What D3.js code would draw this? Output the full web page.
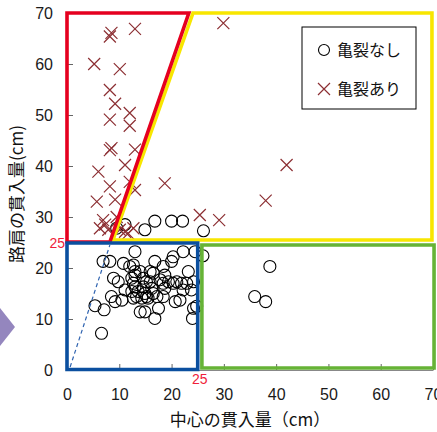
<!DOCTYPE html>
<html>
<head>
<meta charset="utf-8">
<script src="https://cdn.jsdelivr.net/npm/d3@7"></script>
<style>
  body { margin: 0; background: #fff; }
  svg { display: block; }
</style>
</head>
<body>
<div id="container"></div>
<script>
// values (cm)
const noCrack = [
  [6.6,7.2],[5.35,12.6],[7.1,11.8],[6.9,21.3],[8.2,21.3],
  [8.5,14.4],[8.9,18.0],[9.8,17.3],[9.2,13.4],[10.5,13.7],
  [10.8,20.9],[12.0,20.3],[12.7,20.6],[13.0,23.2],[11.1,15.7],
  [12.4,15.4],[12.7,17.0],[13.0,18.6],[13.3,14.4],[14.0,11.4],
  [14.9,11.4],[16.8,10.1],[15.2,17.3],[15.2,14.4],[16.2,16.0],
  [16.5,19.0],[16.8,21.3],[17.2,14.4],[17.5,12.1],[18.4,14.4],
  [18.4,20.3],[17.8,17.7],[19.4,17.3],[20.3,17.0],[20.3,22.2],
  [20.7,13.4],[21.6,13.7],[22.2,23.2],[21.9,17.0],[22.9,17.0],
  [23.2,19.3],[23.8,15.7],[24.2,12.1],[24.0,10.1],[24.5,23.2],
  [24.8,12.5],[24.2,17.3],[20.0,21.3],[13.0,19.3],[14.0,19.3],
  [15.9,19.3],[18.7,18.6],[12.4,18.0],[14.6,18.0],[15.9,17.3],
  [18.4,17.0],[21.0,17.3],[13.0,16.3],[14.6,16.3],[13.6,15.4],
  [14.9,15.0],[16.5,15.0],[18.7,16.0],[22.2,15.7],[12.7,14.1],
  [14.3,14.1],[15.5,14.1],[26.0,22.4],
  [9.5,27.8],[11.1,28.5],[14.9,27.5],[16.8,29.2],[20.0,29.2],
  [22.1,29.2],[26.1,27.3],
  [38.8,20.3],[35.9,14.4],[38.0,13.4]
];
const crack = [
  [5.2,60.0],[8.2,65.4],[8.5,66.1],[13.0,66.9],[10.1,59.0],
  [8.2,54.9],[9.2,52.2],[8.2,49.1],[12.0,50.4],[12.0,47.9],
  [8.5,43.5],[8.2,43.1],[13.0,43.2],[11.1,40.2],[6.0,38.9],
  [8.2,36.0],[13.0,35.3],[12.0,36.9],[18.7,36.6],[5.7,33.0],
  [9.2,33.4],[6.9,29.4],[7.3,28.5],[6.3,27.8],[7.9,27.5],
  [9.5,30.0],[10.1,27.5],[11.1,27.1],[11.7,26.8],[12.7,27.8],
  [25.4,30.4],[29.1,29.4],[29.9,68.0],[42.0,40.2],[38.0,33.2]
];
const xTicks = [0,10,20,30,40,50,60,70];
const yTicks = [0,10,20,30,40,50,60,70];
const legendLabels = ["亀裂なし", "亀裂あり"];
const xTitle = "中心の貫入量（cm）";
const yTitle = "路肩の貫入量(cm)";
const markValue = 25;

// zone outlines in cm
const redZone = [[0,25.1],[0,70],[23.3,70],[8.2,25.1]];
const yellowZone = [[8.8,25.5],[24.1,70],[69.8,70],[69.8,25.5]];
const blueZone = [[0,0.1],[0,24.9],[25,24.9],[25,0.1]];
const greenZone = [[25.8,0.4],[25.8,24.5],[70.2,24.5],[70.2,0.4]];
const guideLine = [[0.6,0.6],[8.2,24.5]];

const width = 437, height = 432;
const svg = d3.create("svg").attr("width", width).attr("height", height);
container.append(svg.node());

const x = d3.scaleLinear().domain([0, 70]).range([67, 433]);
const y = d3.scaleLinear().domain([0, 70]).range([370, 13]);

const tickFont = "'Liberation Sans', Arial, sans-serif";
const jpFont = "'Noto Sans CJK JP', sans-serif";

// little arrow at the left edge
svg.append("path")
  .attr("d", "M0,308L15,327L0,346Z")
  .attr("fill", "#9486be");

// axes
const xAxis = svg.append("g")
  .attr("transform", `translate(0,${y(0)})`)
  .call(d3.axisBottom(x).tickValues(xTicks).tickSize(-6).tickPadding(19).tickSizeOuter(0));
const yAxis = svg.append("g")
  .attr("transform", `translate(${x(0)},0)`)
  .call(d3.axisLeft(y).tickValues(yTicks).tickSize(-6).tickPadding(14).tickSizeOuter(0));
[xAxis, yAxis].forEach(g => {
  g.select(".domain").attr("stroke", "#888");
  g.selectAll(".tick line").attr("stroke", "#666");
  g.selectAll(".tick text")
    .attr("fill", "#1a1a1a")
    .style("font-family", tickFont)
    .style("font-size", "16px");
});

// points
const r = 6;
svg.append("g").selectAll("circle")
  .data(noCrack)
  .join("circle")
  .attr("cx", d => x(d[0]))
  .attr("cy", d => y(d[1]))
  .attr("r", r)
  .attr("fill", "none")
  .attr("stroke", "#000")
  .attr("stroke-width", 1.1);

const crossPath = (cx, cy, s) =>
  `M${cx-s},${cy-s}L${cx+s},${cy+s}M${cx-s},${cy+s}L${cx+s},${cy-s}`;
svg.append("g").selectAll("path")
  .data(crack)
  .join("path")
  .attr("d", d => crossPath(x(d[0]), y(d[1]), 6))
  .attr("fill", "none")
  .attr("stroke", "#8c2f33")
  .attr("stroke-width", 1.2);

// zones
const line = d3.line().x(d => x(d[0])).y(d => y(d[1]));
svg.append("path")
  .attr("d", line(guideLine))
  .attr("fill", "none")
  .attr("stroke", "#2f63b0")
  .attr("stroke-width", 1.2)
  .attr("stroke-dasharray", "4,3");

const zones = [
  [yellowZone, "#f8e600"],
  [redZone, "#e5001f"],
  [blueZone, "#0b4f9f"],
  [greenZone, "#66b336"]
];
svg.append("g").selectAll("path")
  .data(zones)
  .join("path")
  .attr("d", d => line(d[0]) + "Z")
  .attr("fill", "none")
  .attr("stroke", d => d[1])
  .attr("stroke-width", 3.6)
  .attr("stroke-linejoin", "miter");

// red 25 marks
svg.append("text")
  .attr("x", x(0) - 2).attr("y", y(markValue) + 5)
  .attr("text-anchor", "end")
  .attr("fill", "#f0203a")
  .style("font-family", tickFont).style("font-size", "14px")
  .text(markValue);
svg.append("text")
  .attr("x", x(markValue) + 2).attr("y", y(0) + 14)
  .attr("text-anchor", "middle")
  .attr("fill", "#f0203a")
  .style("font-family", tickFont).style("font-size", "14px")
  .text(markValue);

// legend
const lg = svg.append("g").attr("transform", "translate(302,27)");
lg.append("rect")
  .attr("width", 114).attr("height", 82)
  .attr("fill", "#fff").attr("stroke", "#000").attr("stroke-width", 1);
lg.append("circle")
  .attr("cx", 22).attr("cy", 23).attr("r", 5.5)
  .attr("fill", "none").attr("stroke", "#000").attr("stroke-width", 1.1);
lg.append("path")
  .attr("d", crossPath(22, 62, 6))
  .attr("stroke", "#8c2f33").attr("stroke-width", 1.2);
lg.selectAll("text")
  .data(legendLabels)
  .join("text")
  .attr("x", 35)
  .attr("y", (d, i) => 29 + i * 39)
  .attr("fill", "#111")
  .style("font-family", jpFont)
  .style("font-size", "16px")
  .text(d => d);

// axis titles
svg.append("text")
  .attr("x", 250).attr("y", 426)
  .attr("text-anchor", "middle")
  .attr("fill", "#111")
  .style("font-family", jpFont).style("font-size", "17px")
  .text(xTitle);
svg.append("text")
  .attr("transform", "translate(23,194) rotate(-90)")
  .attr("text-anchor", "middle")
  .attr("fill", "#111")
  .style("font-family", jpFont).style("font-size", "17px")
  .text(yTitle);
</script>
</body>
</html>
